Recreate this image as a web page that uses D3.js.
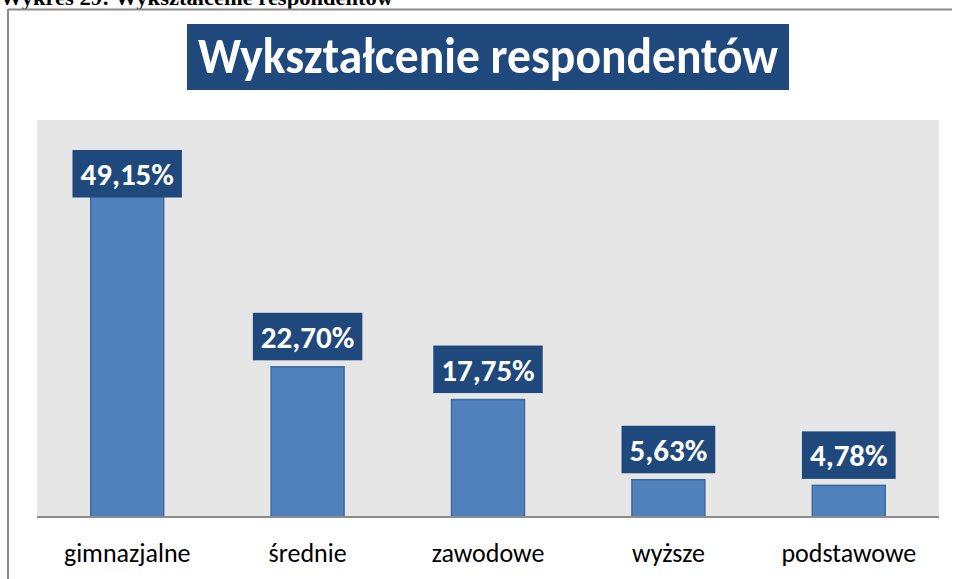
<!DOCTYPE html>
<html><head><meta charset="utf-8">
<script src="https://cdn.jsdelivr.net/npm/d3@7"></script>
<style>html,body{margin:0;padding:0;background:#fff;overflow:hidden}</style>
</head><body>
<script>
const categories = ["gimnazjalne", "średnie", "zawodowe", "wyższe", "podstawowe"];
const values = [49.15, 22.70, 17.75, 5.63, 4.78];
const valueLabels = ["49,15%", "22,70%", "17,75%", "5,63%", "4,78%"];
const yDomain = [0, 60];
const chartTitle = "Wykształcenie respondentów";
const caption = "Wykres 29: Wykształcenie respondentów";

const W = 957, H = 579;
const plot = {left: 37, right: 939, top: 120, bottom: 517};
const dark = "#1f497d";
const font = "Calibri, Carlito, 'Open Sans', sans-serif";

const svg = d3.select("body").append("svg").attr("width", W).attr("height", H);

// caption cut at top
svg.append("text").attr("x", 0).attr("y", 5)
  .attr("font-family", "'Liberation Serif', 'Times New Roman', serif")
  .attr("font-weight", "bold").attr("font-size", 20)
  .attr("textLength", 393).attr("lengthAdjust", "spacingAndGlyphs")
  .attr("fill", "#000").text(caption);

// outer frame
svg.append("line").attr("x1", 8).attr("x2", 952).attr("y1", 9.5).attr("y2", 9.5)
  .attr("stroke", "#8a8a8a").attr("stroke-width", 2);
svg.append("line").attr("x1", 8).attr("x2", 8).attr("y1", 9).attr("y2", H)
  .attr("stroke", "#8a8a8a").attr("stroke-width", 2);

// title
svg.append("rect").attr("x", 187).attr("y", 24).attr("width", 602).attr("height", 66).attr("fill", dark);
svg.append("text").attr("x", 488).attr("y", 73).attr("text-anchor", "middle")
  .attr("font-family", font)
  .attr("font-weight", "bold").attr("font-size", 50)
  .attr("textLength", 580).attr("lengthAdjust", "spacingAndGlyphs")
  .attr("fill", "#fff").text(chartTitle);

// plot area
svg.append("rect").attr("x", plot.left).attr("y", plot.top)
  .attr("width", plot.right - plot.left).attr("height", plot.bottom - plot.top)
  .attr("fill", "#e6e6e6");

const x = d3.scaleBand().domain(categories).range([plot.left, plot.right])
  .paddingInner(0.59).paddingOuter(0.295);
const y = d3.scaleLinear().domain(yDomain).range([plot.bottom, plot.top]);

const data = categories.map((c, i) => ({c, v: values[i], label: valueLabels[i]}));

svg.append("g").selectAll("rect").data(data).join("rect")
  .attr("x", d => x(d.c) + 0.5).attr("y", d => y(d.v))
  .attr("width", x.bandwidth() - 1).attr("height", d => y(0) - y(d.v))
  .attr("fill", "#4f81bd").attr("stroke", "#3d6a9e").attr("stroke-width", 1.5);

// axis
const axis = svg.append("g").attr("transform", `translate(0,${plot.bottom})`)
  .call(d3.axisBottom(x).tickSize(0).tickPadding(0));
axis.select(".domain").attr("stroke", "#8c8c8c").attr("stroke-width", 2)
  .attr("d", `M${plot.left},0H${plot.right}`);
axis.selectAll(".tick text")
  .attr("y", 45).attr("dy", null)
  .attr("font-family", font)
  .attr("font-size", 26).attr("fill", "#000");

// value labels
const lg = svg.append("g").selectAll("g").data(data).join("g");
lg.each(function(d) {
  const g = d3.select(this);
  const cx = x(d.c) + x.bandwidth() / 2;
  const t = g.append("text").attr("x", cx).attr("text-anchor", "middle")
    .attr("font-family", font)
    .attr("font-weight", "bold").attr("font-size", 31).attr("fill", "#fff").text(d.label);
  const tw = t.node().getComputedTextLength();
  const bh = 47.5;
  let top = y(d.v) - 6.5 - bh;
  top = Math.max(top, plot.top + 30);
  g.insert("rect", "text").attr("x", cx - tw / 2 - 8).attr("y", top)
    .attr("width", tw + 16).attr("height", bh).attr("fill", dark);
  t.attr("y", top + 35);
});
</script>
</body></html>
